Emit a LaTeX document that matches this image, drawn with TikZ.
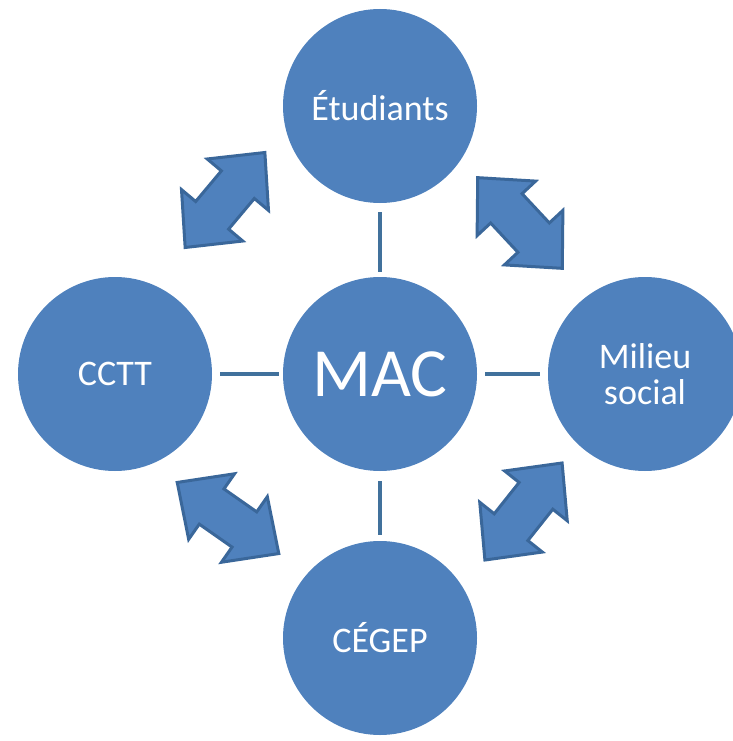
\documentclass[tikz,border=0pt]{standalone}
\usepackage{fontspec}
\setmainfont{Carlito}
\definecolor{cfill}{HTML}{4F81BD}
\definecolor{cline}{HTML}{41719C}
\definecolor{aline}{HTML}{3A679A}
\tikzset{
  bubble/.style={circle, fill=cfill, minimum size=194pt, inner sep=0pt, text=white, align=center,
    font=\fontsize{36}{36}\selectfont},
  link/.style={draw=cline, line width=4.5pt},
  dblarrow/.style={fill=cfill, draw=aline, line width=3pt, line join=miter},
}
\newcommand{\dblarrowshape}{(62,0) -- (20,40) -- (20,21.5) -- (-20,21.5) -- (-20,40) -- (-62,0) -- (-20,-40) -- (-20,-21.5) -- (20,-21.5) -- (20,-40) -- cycle}
\begin{document}
\begin{tikzpicture}[x=1pt,y=-1pt]
\useasboundingbox (0,0) rectangle (732,741);
\node[bubble] (etu) at (380,106) {Étudiants};
\node[bubble, font=\fontsize{69}{70}\selectfont] (mac) at (380,374) {MAC};
\node[bubble] (cctt) at (115,374) {CCTT};
\node[bubble] (mil) at (645,374) {Milieu\\social};
\node[bubble] (cegep) at (380,638) {CÉGEP};
\draw[link, shorten <=9pt, shorten >=5pt] (etu.south) -- (mac.north);
\draw[link, shorten <=8pt, shorten >=4pt] (cctt.east) -- (mac.west);
\draw[link, shorten <=8pt, shorten >=8pt] (mac.east) -- (mil.west);
\draw[link, shorten <=10pt, shorten >=6pt] (mac.south) -- (cegep.north);
\begin{scope}[shift={(225,200)}, rotate=50]
  \draw[dblarrow] \dblarrowshape;
\end{scope}
\begin{scope}[shift={(520,223)}, rotate=-47]
  \draw[dblarrow] \dblarrowshape;
\end{scope}
\begin{scope}[shift={(228,518)}, rotate=-35]
  \draw[dblarrow] \dblarrowshape;
\end{scope}
\begin{scope}[shift={(523.5,511.5)}, rotate=51.5]
  \draw[dblarrow] \dblarrowshape;
\end{scope}
\end{tikzpicture}
\end{document}
